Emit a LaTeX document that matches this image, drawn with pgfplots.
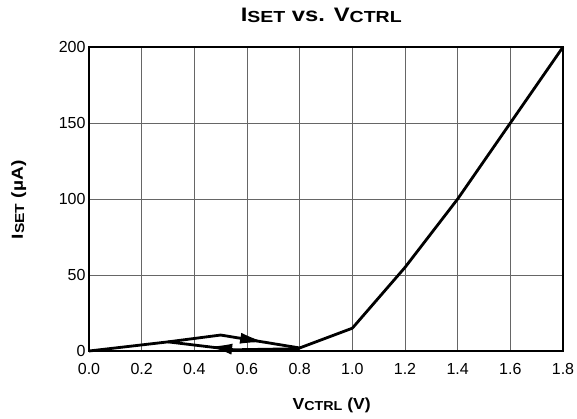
\documentclass[border=0pt]{standalone}
\usepackage{fontspec}
\setmainfont{Liberation Sans}
\usepackage{graphicx}
\usepackage{pgfplots}
\pgfplotsset{compat=1.18}
\usetikzlibrary{arrows.meta}
% lowered, smaller subscript used in the labels
\newcommand{\sub}[2]{\raisebox{-1.2pt}{\fontsize{#1}{#1}\selectfont #2}}
\begin{document}
\begin{tikzpicture}
\begin{axis}[
  scale only axis,
  width=474pt, height=304pt,
  xmin=0, xmax=1.8, ymin=0, ymax=200,
  xtick={0,0.2,...,1.8},
  ytick={0,50,...,200},
  xticklabel style={/pgf/number format/fixed, /pgf/number format/fixed zerofill,
    /pgf/number format/precision=1, yshift=-9pt},
  /pgf/number format/assume math mode=true,
  tick label style={font=\fontsize{16}{18}\selectfont},
  tick style={draw=none},
  grid=major,
  major grid style={black!60, line width=0.9pt},
  axis line style={line width=2.6pt},
  title={\scalebox{1.22}[1]{\bfseries I\sub{16}{SET} vs. V\sub{16}{CTRL}}},
  title style={font=\fontsize{19.5}{22}\selectfont, at={(axis description cs:0.49,1.085)}, anchor=center},
  xlabel={\scalebox{1.1}[1]{\bfseries V\sub{13}{CTRL} (V)}},
  xlabel style={font=\fontsize{16}{18}\selectfont, at={(axis description cs:0.512,-0.178)}, anchor=center},
  ylabel={\scalebox{1.2}[1]{\bfseries I\sub{13}{SET} (µA)}},
  ylabel style={font=\fontsize{16}{18}\selectfont, at={(axis description cs:-0.148,0.497)}, anchor=center},
  clip=false,
]
\addplot[black, line width=2.8pt, line join=round] coordinates {
(0,0) (0.3,6) (0.5,10.5) (0.8,2) (1.0,15) (1.2,55) (1.4,100) (1.6,150) (1.8,200)
};
\addplot[black, line width=2.8pt, line join=round] coordinates {
(0.8,1.5) (0.55,0.8) (0.3,6)
};
\addplot[black, line width=1pt, -{Latex[length=24pt,width=11pt]}] coordinates {
(0.53,9.65) (0.665,5.85)
};
\addplot[black, line width=1pt, -{Latex[length=22pt,width=11pt]}] coordinates {
(0.56,0.9) (0.46,2.85)
};
\coordinate (sw) at (rel axis cs:0,0);
\coordinate (ne) at (rel axis cs:1,1);
\end{axis}
\pgfresetboundingbox
\useasboundingbox ([shift={(-89pt,-68pt)}]sw) rectangle ([shift={(14pt,47pt)}]ne);
\end{tikzpicture}
\end{document}
